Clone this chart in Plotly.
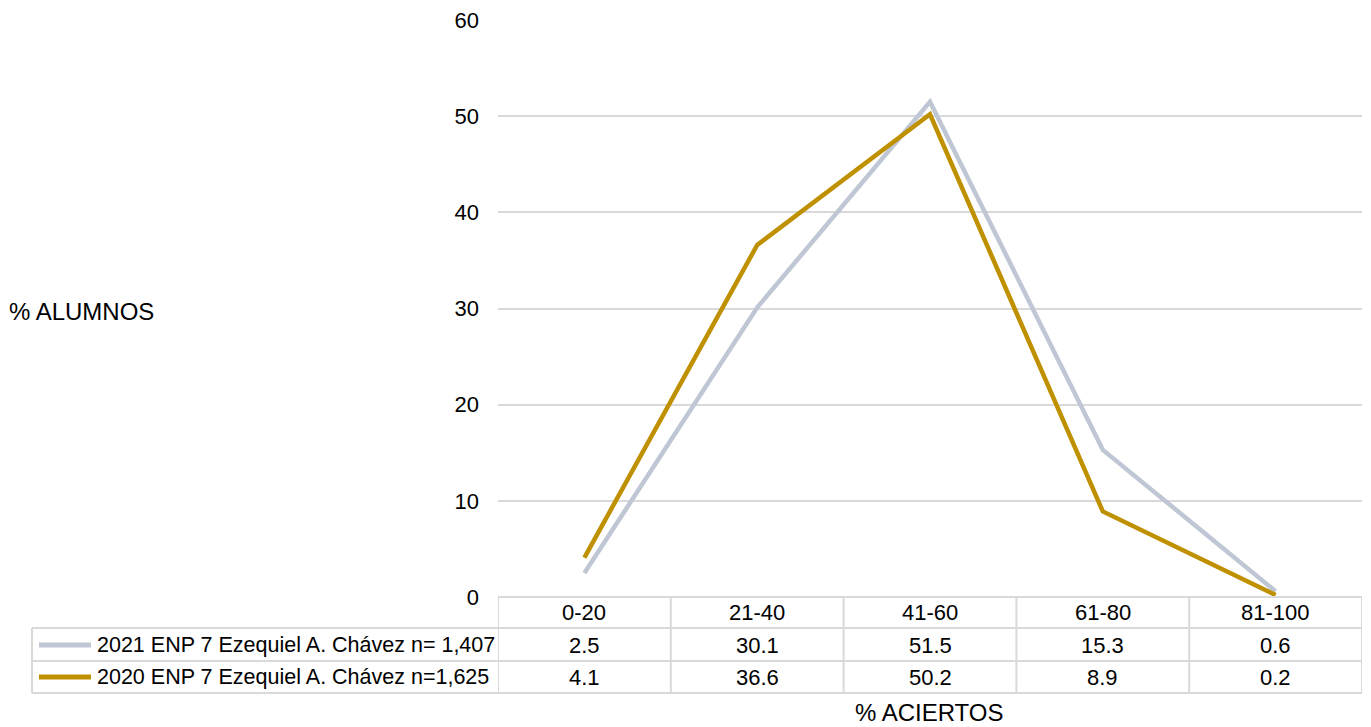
import plotly.graph_objects as go

categories = ["0-20", "21-40", "41-60", "61-80", "81-100"]
series_names = ["2021 ENP 7 Ezequiel A. Chávez n= 1,407",
                "2020 ENP 7 Ezequiel A. Chávez n=1,625"]
values_2021 = [2.5, 30.1, 51.5, 15.3, 0.6]
values_2020 = [4.1, 36.6, 50.2, 8.9, 0.2]
colors = ["#BFC6D4", "#BF9000"]
y_ticks = [0, 10, 20, 30, 40, 50, 60]

W, H = 1371, 727
L, R, T, B = 498, 9, 20, 130
plot_h = H - T - B
plot_w = W - L - R


def py(p):
    return (H - B - p) / plot_h


def px(p):
    return (p - L) / plot_w


FONT = "Liberation Sans, Arial, sans-serif"
FS = 22
GRID = "#D9D9D9"

fig = go.Figure()
series = [values_2021, values_2020]
idx = list(range(len(categories)))
for name, vals, col in zip(series_names, series, colors):
    fig.add_trace(go.Scatter(x=idx, y=vals, mode="lines", name=name,
                             line=dict(color=col, width=4.5), showlegend=False))

shapes = []
ann = []
# table horizontal lines
shapes.append(dict(type="line", xref="x", yref="paper", x0=-0.5, x1=len(categories) - 0.5,
                   y0=0, y1=0, line=dict(color=GRID, width=2)))
for p in [628, 661, 693]:
    shapes.append(dict(type="line", xref="paper", yref="paper", x0=px(32), x1=1,
                       y0=py(p), y1=py(p), line=dict(color=GRID, width=2)))
# table vertical lines
shapes.append(dict(type="line", xref="paper", yref="paper", x0=px(32), x1=px(32),
                   y0=py(628), y1=py(693), line=dict(color=GRID, width=2)))
for i in range(len(categories) + 1):
    shapes.append(dict(type="line", xref="x", yref="paper", x0=i - 0.5, x1=i - 0.5,
                       y0=0, y1=py(693), line=dict(color=GRID, width=2)))

# header
for i, c in enumerate(categories):
    ann.append(dict(x=i, y=py(612), xref="x", yref="paper", text=c, showarrow=False,
                    font=dict(size=FS, color="#000"), xanchor="center", yanchor="middle"))
row_y = [645, 677]
for r, (name, vals, col) in enumerate(zip(series_names, series, colors)):
    yy = py(row_y[r])
    for i, v in enumerate(vals):
        ann.append(dict(x=i, y=yy, xref="x", yref="paper", text=f"{v:.1f}", showarrow=False,
                        font=dict(size=FS, color="#000"), xanchor="center", yanchor="middle"))
    ann.append(dict(x=px(95), y=yy, xref="paper", yref="paper", text=name, showarrow=False,
                    font=dict(size=21.5, color="#000"), xanchor="left", yanchor="middle"))
    shapes.append(dict(type="line", xref="paper", yref="paper", x0=px(39), x1=px(91),
                       y0=yy, y1=yy, line=dict(color=col, width=5)))

ann.append(dict(x=px(7), y=py(311), xref="paper", yref="paper", text="% ALUMNOS",
                showarrow=False, font=dict(size=24, color="#000"), xanchor="left", yanchor="middle"))
ann.append(dict(x=px(929), y=py(712), xref="paper", yref="paper", text="% ACIERTOS",
                showarrow=False, font=dict(size=24, color="#000"), xanchor="center", yanchor="middle"))

fig.update_layout(
    width=W, height=H,
    margin=dict(l=L, r=R, t=T, b=B, autoexpand=False),
    paper_bgcolor="white", plot_bgcolor="white",
    font=dict(family=FONT, size=FS, color="#000"),
    shapes=shapes, annotations=ann,
    xaxis=dict(range=[-0.5, len(categories) - 0.5], showgrid=False, zeroline=False,
               showticklabels=False, showline=False, fixedrange=True),
    yaxis=dict(range=[0, 60], tickvals=y_ticks, showgrid=True, gridcolor=GRID, gridwidth=2,
               zeroline=False, showline=False, ticks="", ticklabelstandoff=18,
               tickfont=dict(size=FS, color="#000")),
)

fig.write_html("out.html", config={"displayModeBar": False},
               post_script="document.body.style.margin='0';document.body.style.overflow='hidden';")
